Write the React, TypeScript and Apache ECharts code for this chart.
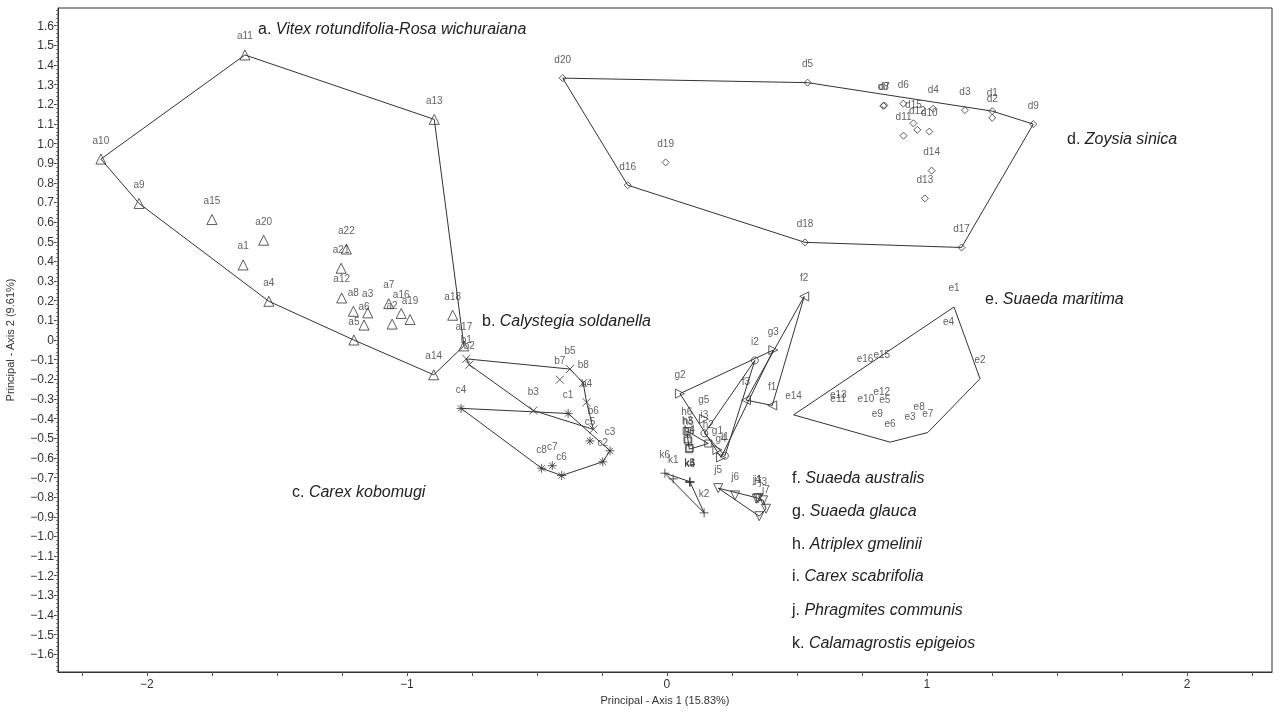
import React, { useEffect, useRef } from "react";
import * as echarts from "echarts";

type P = [string, number, number];

const groupA: P[] = [
  ["a1", -1.63, 0.382], ["a2", -1.057, 0.081], ["a3", -1.151, 0.138], ["a4", -1.531, 0.197],
  ["a5", -1.204, 0.0], ["a6", -1.165, 0.076], ["a7", -1.07, 0.185], ["a8", -1.206, 0.146],
  ["a9", -2.03, 0.695], ["a10", -2.177, 0.921], ["a11", -1.623, 1.451], ["a12", -1.251, 0.214],
  ["a13", -0.895, 1.123], ["a14", -0.897, -0.177], ["a15", -1.75, 0.613], ["a16", -1.022, 0.135],
  ["a17", -0.781, -0.03], ["a18", -0.824, 0.126], ["a19", -0.988, 0.104], ["a20", -1.551, 0.508],
  ["a21", -1.253, 0.365], ["a22", -1.233, 0.463],
];
const hullA = ["a10", "a11", "a13", "a17", "a14", "a5", "a4", "a9"];

const groupB: P[] = [
  ["b1", -0.772, -0.096], ["b2", -0.76, -0.126], ["b3", -0.514, -0.359], ["b4", -0.309, -0.317],
  ["b5", -0.373, -0.148], ["b6", -0.283, -0.455], ["b7", -0.412, -0.202], ["b8", -0.322, -0.219],
];
const hullB = ["b1", "b5", "b8", "b4", "b6", "b3", "b2"];

const groupC: P[] = [
  ["c1", -0.38, -0.374], ["c2", -0.247, -0.62], ["c3", -0.219, -0.564], ["c4", -0.792, -0.348],
  ["c5", -0.296, -0.514], ["c6", -0.405, -0.69], ["c7", -0.441, -0.64], ["c8", -0.482, -0.653],
];
const hullC = ["c4", "c1", "c3", "c2", "c6", "c8"];

const groupD: P[] = [
  ["d1", 1.251, 1.165], ["d2", 1.251, 1.131], ["d3", 1.146, 1.17], ["d4", 1.024, 1.177],
  ["d5", 0.541, 1.31], ["d6", 0.909, 1.203], ["d7", 0.836, 1.194], ["d8", 0.832, 1.192],
  ["d9", 1.409, 1.099], ["d10", 1.009, 1.061], ["d11", 0.91, 1.04], ["d12", 0.963, 1.07],
  ["d13", 0.992, 0.721], ["d14", 1.018, 0.862], ["d15", 0.948, 1.103], ["d16", -0.151, 0.788],
  ["d17", 1.133, 0.471], ["d18", 0.531, 0.497], ["d19", -0.005, 0.904], ["d20", -0.401, 1.333],
];
const hullD = ["d20", "d5", "d1", "d9", "d17", "d18", "d16"];

const groupE: P[] = [
  ["e1", 1.104, 0.168], ["e2", 1.204, -0.197], ["e3", 0.935, -0.488], ["e4", 1.083, -0.004],
  ["e5", 0.838, -0.399], ["e6", 0.858, -0.52], ["e7", 1.003, -0.471], ["e8", 0.97, -0.433],
  ["e9", 0.809, -0.47], ["e10", 0.765, -0.396], ["e11", 0.659, -0.396], ["e12", 0.826, -0.357],
  ["e13", 0.659, -0.374], ["e14", 0.487, -0.381], ["e15", 0.826, -0.172], ["e16", 0.762, -0.189],
];
const hullE = ["e1", "e2", "e7", "e6", "e14"];

const groupF: P[] = [["f1", 0.405, -0.333], ["f2", 0.528, 0.222], ["f3", 0.304, -0.306]];
const hullF = ["f2", "f1", "f3"];

const groupG: P[] = [
  ["g1", 0.194, -0.559], ["g2", 0.05, -0.273], ["g3", 0.409, -0.051], ["g4", 0.208, -0.598], ["g5", 0.142, -0.402],
];
const hullG = ["g2", "g3", "g4"];

const groupH: P[] = [
  ["h1", 0.086, -0.556], ["h2", 0.159, -0.527], ["h3", 0.079, -0.505], ["h4", 0.087, -0.55],
  ["h5", 0.082, -0.513], ["h6", 0.076, -0.463],
];
const hullH = ["h6", "h2", "h1"];

const groupI: P[] = [["i1", 0.223, -0.589], ["i2", 0.338, -0.104], ["i3", 0.144, -0.475]];
const hullI = ["i2", "i1", "i3"];

const groupJ: P[] = [
  ["j1", 0.351, -0.805], ["j2", 0.355, -0.897], ["j3", 0.37, -0.816], ["j4", 0.345, -0.808],
  ["j5", 0.197, -0.754], ["j6", 0.262, -0.791], ["j7", 0.381, -0.859],
];
const hullJ = ["j5", "j1", "j3", "j7", "j2"];

const groupK: P[] = [
  ["k1", 0.024, -0.707], ["k2", 0.143, -0.88], ["k3", 0.088, -0.721], ["k4", 0.088, -0.723],
  ["k5", 0.088, -0.725], ["k6", -0.008, -0.678],
];
const hullK = ["k6", "k3", "k2"];

const xLabelValues = [-2, -1, 0, 1, 2];
const xTickValues = [-2.25, -2, -1.75, -1.5, -1.25, -1, -0.75, -0.5, -0.25, 0, 0.25, 0.5, 0.75, 1, 1.25, 1.5, 1.75, 2, 2.25];
const yLabelValues = [
  -1.6, -1.5, -1.4, -1.3, -1.2, -1.1, -1.0, -0.9, -0.8, -0.7, -0.6, -0.5, -0.4, -0.3, -0.2, -0.1, 0,
  0.1, 0.2, 0.3, 0.4, 0.5, 0.6, 0.7, 0.8, 0.9, 1.0, 1.1, 1.2, 1.3, 1.4, 1.5, 1.6,
];

const legendItems: [string, string, number, number][] = [
  ["a.", "Vitex rotundifolia-Rosa wichuraiana", 258, 30],
  ["b.", "Calystegia soldanella", 482, 322],
  ["c.", "Carex kobomugi", 292, 493],
  ["d.", "Zoysia sinica", 1067, 140],
  ["e.", "Suaeda maritima", 985, 300],
  ["f.", "Suaeda australis", 792, 479],
  ["g.", "Suaeda glauca", 792, 512],
  ["h.", "Atriplex gmelinii", 792, 545],
  ["i.", "Carex scabrifolia", 792, 577],
  ["j.", "Phragmites communis", 792, 611],
  ["k.", "Calamagrostis epigeios", 792, 644],
];

const FONT = "'Liberation Sans', Arial, Helvetica, sans-serif";
const INK = "#333333";

const minorTicks: number[] = [];
for (let i = -84; i <= 84; i++) minorTicks.push(Math.round(i * 2) / 100);

const fmt = (v: number, d: number) => (v === 0 ? "0" : (v < 0 ? "\u2212" : "") + Math.abs(v).toFixed(d));

function scatter(g: P[], symbol: string, size: number, rotate = 0, hidden = false) {
  return {
    type: "scatter",
    symbol,
    symbolSize: size,
    symbolRotate: rotate,
    z: 3,
    itemStyle: hidden
      ? { color: "rgba(0,0,0,0)", borderColor: "rgba(0,0,0,0)", borderWidth: 0 }
      : { color: "rgba(0,0,0,0)", borderColor: INK, borderWidth: 1 },
    label: {
      show: true,
      position: "inside",
      offset: [0, -19],
      formatter: "{b}",
      fontSize: 10,
      fontFamily: FONT,
      color: "#383838",
    },
    data: g.map((p) => ({ name: p[0], value: [p[1], p[2]] })),
  };
}

function hull(g: P[], order: string[]) {
  const pts = order.map((n) => {
    const p = g.find((q) => q[0] === n)!;
    return [p[1], p[2]];
  });
  pts.push(pts[0]);
  return {
    type: "line",
    data: pts,
    symbol: "none",
    silent: true,
    z: 2,
    lineStyle: { color: INK, width: 1 },
  };
}

const X_PATH = "path://M0,0L10,10M10,0L0,10";
const STAR_PATH = "path://M5,0L5,10M0,5L10,5M1.5,1.5L8.5,8.5M8.5,1.5L1.5,8.5";
const PLUS_PATH = "path://M5,0L5,10M0,5L10,5";

export default function App() {
  const ref = useRef<HTMLDivElement>(null);
  useEffect(() => {
    const chart = echarts.init(ref.current!, null, { renderer: "svg" });
    const axisCommon = {
      axisLine: { show: true, onZero: false, lineStyle: { color: "#333", width: 1 } },
      splitLine: { show: false },
      nameTextStyle: { fontSize: 11, fontFamily: FONT, color: "#333" },
    };
    chart.setOption({
      animation: false,
      grid: {
        left: 58, right: 10, top: 8, bottom: 41,
        containLabel: false, outerBoundsMode: "none",
        show: true, borderColor: "#333", borderWidth: 1, backgroundColor: "transparent",
      },
      xAxis: {
        type: "value",
        min: -2.342,
        max: 2.327,
        ...axisCommon,
        axisTick: { show: true, customValues: xTickValues, length: 4, lineStyle: { color: "#555" } },
        axisLabel: { customValues: xLabelValues, formatter: (v: number) => fmt(v, 0), fontSize: 12, fontFamily: FONT, color: "#333", margin: 6 },
        name: "Principal - Axis 1 (15.83%)",
        nameLocation: "middle",
        nameGap: 22,
      },
      yAxis: [
        {
          type: "value",
          min: -1.69,
          max: 1.69,
          ...axisCommon,
          axisTick: { show: true, customValues: yLabelValues, length: 4, lineStyle: { color: "#444" } },
          axisLabel: { customValues: yLabelValues, formatter: (v: number) => fmt(v, 1), fontSize: 12, fontFamily: FONT, color: "#333", margin: 4 },
          name: "Principal - Axis 2 (9.61%)",
          nameLocation: "middle",
          nameGap: 43,
        },
        {
          type: "value",
          min: -1.69,
          max: 1.69,
          position: "left",
          axisLine: { show: false, onZero: false },
          splitLine: { show: false },
          axisTick: { show: true, customValues: minorTicks, length: 2, lineStyle: { color: "#777" } },
          axisLabel: { show: false },
        },
      ],
      series: [
        hull(groupA, hullA), hull(groupB, hullB), hull(groupC, hullC), hull(groupD, hullD),
        hull(groupE, hullE), hull(groupF, hullF), hull(groupG, hullG), hull(groupH, hullH),
        hull(groupI, hullI), hull(groupJ, hullJ), hull(groupK, hullK),
        scatter(groupA, "triangle", 10),
        scatter(groupB, X_PATH, 8),
        scatter(groupC, STAR_PATH, 9),
        scatter(groupD, "diamond", 7),
        scatter(groupE, "circle", 2, 0, true),
        scatter(groupF, "triangle", 9, 90),
        scatter(groupG, "triangle", 9, -90),
        scatter(groupH, "rect", 7),
        scatter(groupI, "circle", 7),
        scatter(groupJ, "triangle", 9, 180),
        scatter(groupK, PLUS_PATH, 9),
      ],
      graphic: legendItems.map(([l, name, x, y]) => ({
        type: "text",
        left: x,
        top: y - 10,
        silent: true,
        style: {
          text: `{n|${l} }{i|${name}}`,
          rich: {
            n: { fontSize: 16, fontFamily: FONT, fill: "#222" },
            i: { fontSize: 16, fontFamily: FONT, fontStyle: "italic", fill: "#222" },
          },
        },
      })),
    });
    return () => chart.dispose();
  }, []);
  return <div ref={ref} style={{ position: "fixed", left: 0, top: 0, width: 1282, height: 713 }} />;
}
